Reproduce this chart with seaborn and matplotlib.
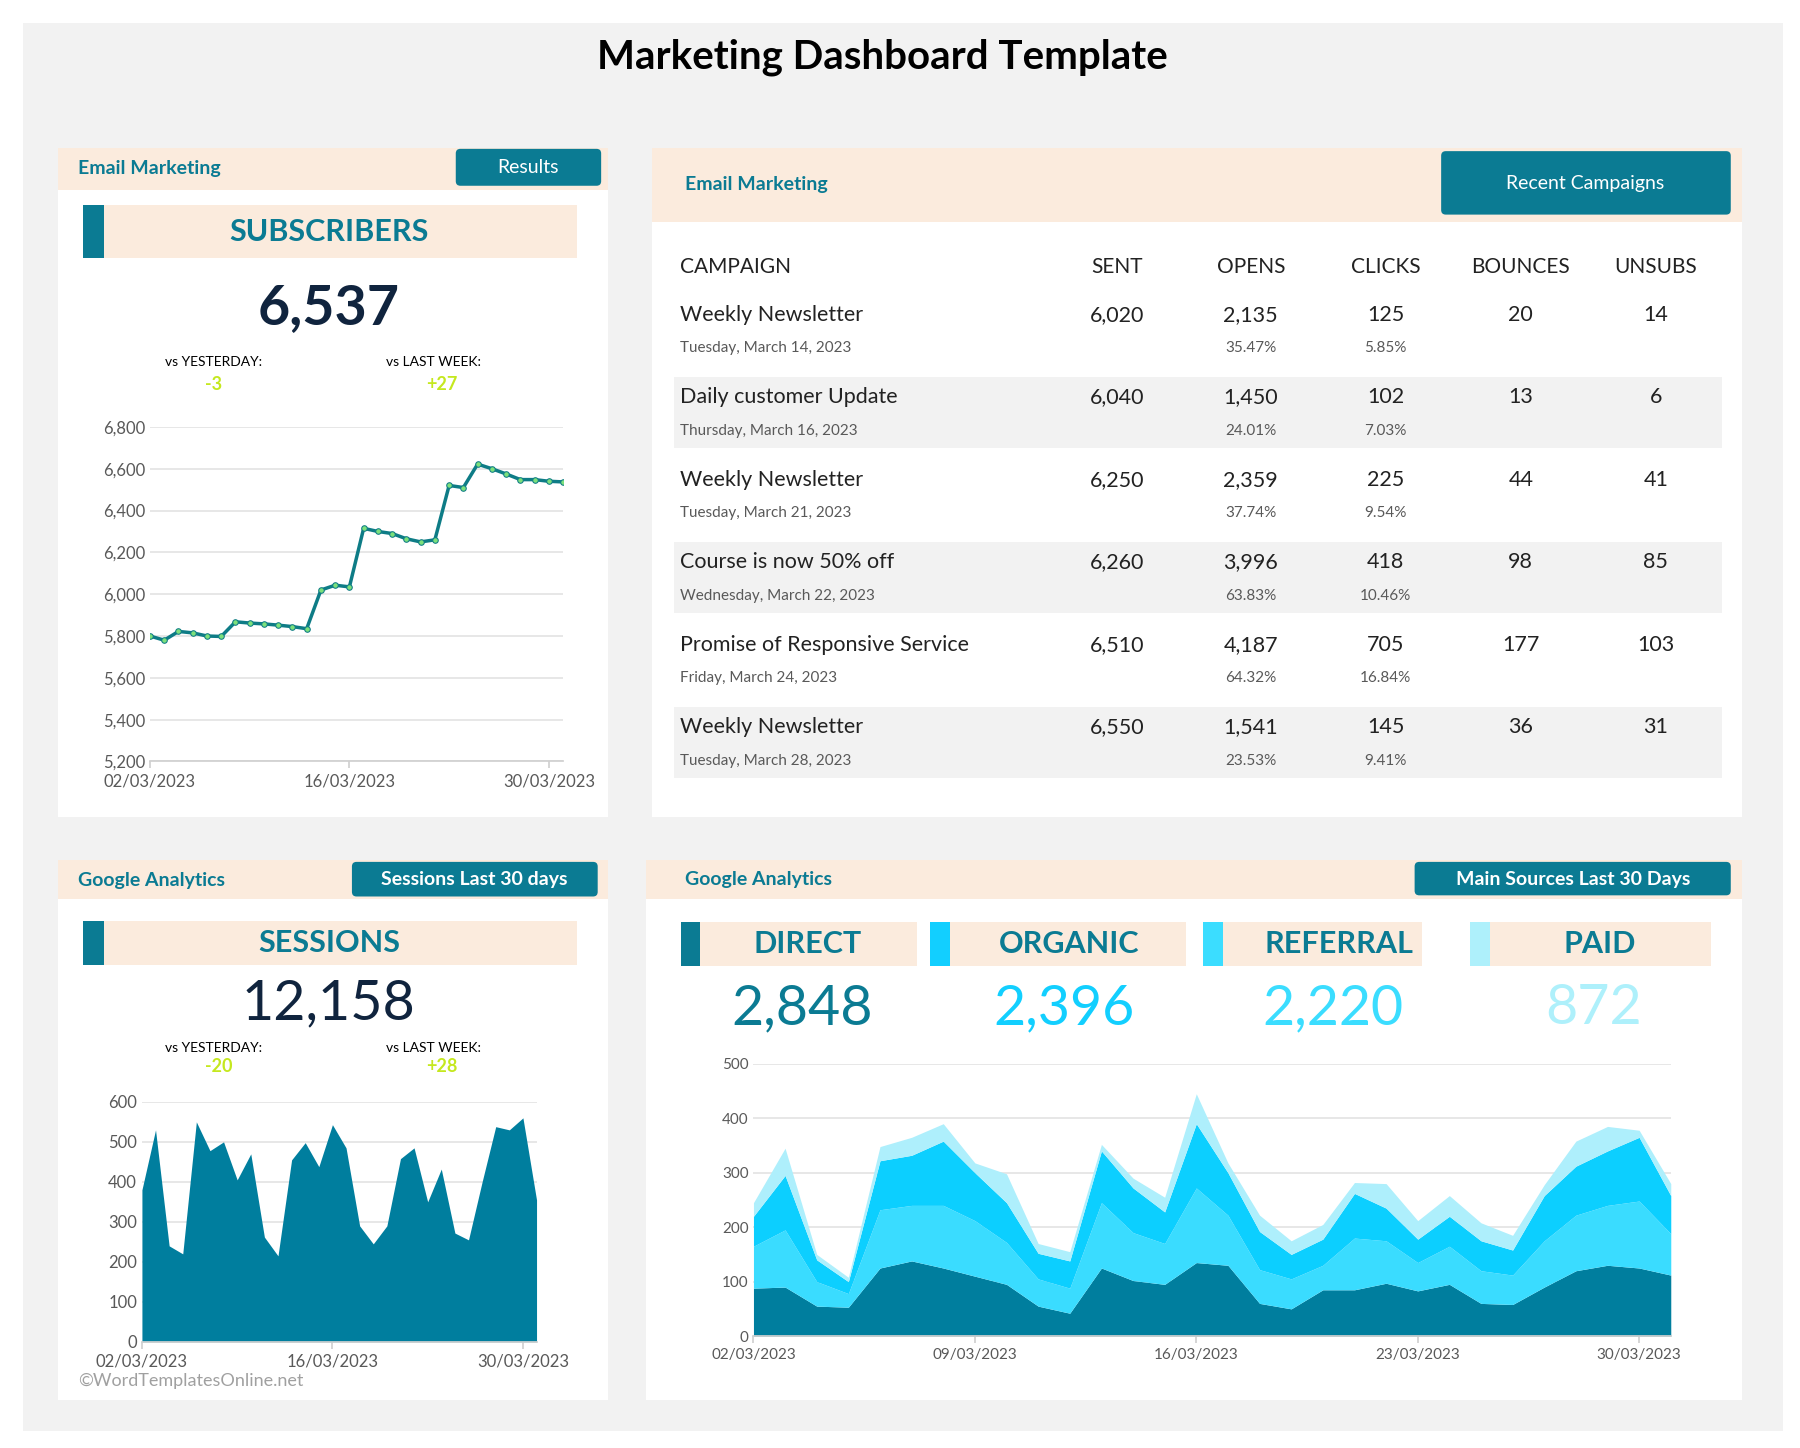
import numpy as np
import pandas as pd
import seaborn as sns
import matplotlib.pyplot as plt
import matplotlib.dates as mdates
from matplotlib.patches import Rectangle, FancyBboxPatch
from matplotlib.ticker import FuncFormatter

dates = pd.date_range('2023-03-02', '2023-03-31', freq='D')

subscribers = [5800, 5780, 5822, 5815, 5800, 5798, 5868, 5862, 5858, 5852,
               5845, 5835, 6020, 6043, 6035, 6315, 6300, 6290, 6265, 6250,
               6260, 6520, 6510, 6622, 6600, 6575, 6548, 6548, 6540, 6537]

sessions = [380, 530, 240, 220, 550, 478, 500, 405, 470, 262,
            215, 455, 498, 438, 543, 485, 290, 245, 290, 458,
            485, 350, 432, 272, 255, 400, 538, 530, 560, 355]

src_direct = [88, 90, 55, 53, 125, 138, 125, 110, 95, 55, 42, 125, 102, 95, 135,
              130, 60, 50, 85, 85, 97, 83, 95, 60, 58, 90, 120, 130, 125, 112]
src_referral = [77, 105, 45, 25, 107, 102, 115, 102, 77, 50, 46, 120, 88, 75, 137,
                92, 62, 55, 45, 95, 78, 52, 70, 60, 54, 85, 102, 110, 123, 76]
src_organic = [55, 100, 40, 22, 90, 92, 118, 88, 73, 47, 50, 95, 82, 58, 118,
               78, 70, 45, 48, 82, 60, 43, 55, 55, 46, 83, 90, 100, 117, 70]
src_paid = [25, 50, 10, 8, 26, 33, 32, 18, 53, 18, 17, 12, 18, 27, 55,
            18, 30, 25, 27, 20, 45, 34, 38, 33, 27, 20, 46, 45, 13, 22]

campaigns = ['Weekly Newsletter', 'Daily customer Update', 'Weekly Newsletter',
             'Course is now 50% off', 'Promise of Responsive Service', 'Weekly Newsletter']
campaign_dates = ['Tuesday, March 14, 2023', 'Thursday, March 16, 2023', 'Tuesday, March 21, 2023',
                  'Wednesday, March 22, 2023', 'Friday, March 24, 2023', 'Tuesday, March 28, 2023']
sent = ['6,020', '6,040', '6,250', '6,260', '6,510', '6,550']
opens = ['2,135', '1,450', '2,359', '3,996', '4,187', '1,541']
opens_pct = ['35.47%', '24.01%', '37.74%', '63.83%', '64.32%', '23.53%']
clicks = ['125', '102', '225', '418', '705', '145']
clicks_pct = ['5.85%', '7.03%', '9.54%', '10.46%', '16.84%', '9.41%']
bounces = ['20', '13', '44', '98', '177', '36']
unsubs = ['14', '6', '41', '85', '103', '31']

source_names = ['DIRECT', 'ORGANIC', 'REFERRAL', 'PAID']
source_totals = ['2,848', '2,396', '2,220', '872']

TEAL = '#0B7B93'
PEACH = '#FBEBDD'
NAVY = '#10243E'
LIME = '#C5E81F'
GREY = '#595959'
SRC_COLORS = ['#0B7B93', '#12CFFF', '#3BDDFF', '#AEF0FB']

sns.set_theme(style='white')
plt.rcParams['font.family'] = ['Lato', 'DejaVu Sans']

W, H = 1560, 1255
fig = plt.figure(figsize=(18, 14.48), dpi=100)
bg = fig.add_axes([0, 0, 1, 1])
bg.set_xlim(0, W)
bg.set_ylim(H, 0)
bg.axis('off')


def rect(x0, y0, x1, y1, color, rounded=False):
    if rounded:
        p = FancyBboxPatch((x0, y0), x1 - x0, y1 - y0, boxstyle='round,pad=0,rounding_size=4',
                           fc=color, ec='none')
    else:
        p = Rectangle((x0, y0), x1 - x0, y1 - y0, fc=color, ec='none')
    bg.add_patch(p)


def txt(x, y, s, size, color='black', ha='center', weight='normal'):
    bg.text(x, y, s, fontsize=size, color=color, ha=ha, va='center', fontweight=weight)


def chart_axes(x0, y0, x1, y1):
    return fig.add_axes([x0 / W, 1 - y1 / H, (x1 - x0) / W, (y1 - y0) / H])


rect(20, 20, 1545, 1240, '#F2F2F2')
txt(765, 50, 'Marketing Dashboard Template', 29, 'black', weight='bold')

# panels
for x0, y0, x1, y1 in [(50, 128, 527, 708), (565, 128, 1510, 708),
                       (50, 745, 527, 1213), (560, 745, 1510, 1213)]:
    rect(x0, y0, x1, y1, 'white')

# panel 1 - subscribers
rect(50, 128, 527, 165, PEACH)
txt(68, 146, 'Email Marketing', 14, TEAL, ha='left', weight='bold')
rect(395, 129, 521, 161, TEAL, rounded=True)
txt(458, 145, 'Results', 14, 'white')
rect(72, 178, 90, 224, TEAL)
rect(90, 178, 500, 224, PEACH)
txt(285, 201, 'SUBSCRIBERS', 22, TEAL, weight='bold')
txt(285, 267, '6,537', 40, NAVY, weight='bold')
txt(185, 314, 'vs YESTERDAY:', 10, 'black')
txt(185, 333, '-3', 13, LIME, weight='bold')
txt(376, 314, 'vs LAST WEEK:', 10, 'black')
txt(383, 333, '+27', 13, LIME, weight='bold')

# panel 2 - campaigns table
rect(565, 128, 1510, 192, PEACH)
txt(594, 160, 'Email Marketing', 14, TEAL, ha='left', weight='bold')
rect(1249, 131, 1500, 186, TEAL, rounded=True)
txt(1374, 159, 'Recent Campaigns', 14, 'white')
col_x = [968, 1084, 1201, 1318, 1435]
txt(589, 231, 'CAMPAIGN', 15, '#222222', ha='left')
for cx, h in zip(col_x, ['SENT', 'OPENS', 'CLICKS', 'BOUNCES', 'UNSUBS']):
    txt(cx, 231, h, 15, '#222222')
for i in range(len(campaigns)):
    top = 255 + i * 71.5
    if i % 2 == 1:
        rect(584, top, 1492, top + 61.5, '#F2F2F2')
    y1, y2 = top + 18, top + 47
    txt(589, y1, campaigns[i], 15.5, '#222222', ha='left')
    txt(589, y2, campaign_dates[i], 11, GREY, ha='left')
    for cx, v in zip(col_x, [sent[i], opens[i], clicks[i], bounces[i], unsubs[i]]):
        txt(cx, y1, v, 15.5, '#222222')
    txt(col_x[1], y2, opens_pct[i], 11, GREY)
    txt(col_x[2], y2, clicks_pct[i], 11, GREY)

# panel 3 - sessions
rect(50, 745, 527, 779, PEACH)
txt(68, 763, 'Google Analytics', 14, TEAL, ha='left', weight='bold')
rect(305, 747, 518, 777, TEAL, rounded=True)
txt(411, 762, 'Sessions Last 30 days', 14, 'white', weight='bold')
rect(72, 798, 90, 836, TEAL)
rect(90, 798, 500, 836, PEACH)
txt(285, 817, 'SESSIONS', 22, TEAL, weight='bold')
txt(285, 870, '12,158', 40, NAVY)
txt(185, 908, 'vs YESTERDAY:', 10, 'black')
txt(190, 924, '-20', 13, LIME, weight='bold')
txt(376, 908, 'vs LAST WEEK:', 10, 'black')
txt(383, 924, '+28', 13, LIME, weight='bold')
txt(68, 1197, '©WordTemplatesOnline.net', 13, '#A0A0A0', ha='left')

# panel 4 - sources
rect(560, 745, 1510, 779, PEACH)
txt(594, 762, 'Google Analytics', 14, TEAL, ha='left', weight='bold')
rect(1226, 747, 1500, 776, TEAL, rounded=True)
txt(1363, 762, 'Main Sources Last 30 Days', 14, 'white', weight='bold')
kpi_boxes = [(590, 795, 700), (806, 1028, 927), (1043, 1232, 1160), (1274, 1483, 1386)]
for (bx0, bx1, tx), name, total, col in zip(kpi_boxes, source_names, source_totals, SRC_COLORS):
    rect(bx0, 799, bx0 + 17, 837, col)
    rect(bx0 + 17, 799, bx1, 837, PEACH)
    txt(tx, 818, name, 22, TEAL, weight='bold')
    txt(tx - 5, 874, total, 40, col)

date_fmt = mdates.DateFormatter('%d/%m/%Y')
thousands = FuncFormatter(lambda v, p: f'{v:,.0f}')


def style_chart(ax, ticks):
    ax.set_facecolor('none')
    ax.set_xlim(dates[0], dates[-1])
    ax.set_xticks(ticks)
    ax.xaxis.set_major_formatter(date_fmt)
    ax.grid(axis='y', color='#E3E3E3', lw=1.2)
    ax.grid(axis='x', visible=False)
    for s in ['top', 'right', 'left']:
        ax.spines[s].set_visible(False)
    ax.spines['bottom'].set_color('#D0D0D0')
    ax.tick_params(axis='x', colors=GREY, labelsize=12, length=5, color='#D0D0D0', bottom=True)
    ax.tick_params(axis='y', colors=GREY, labelsize=12, length=0)
    ax.set_xlabel('')
    ax.set_ylabel('')


# subscribers line
ax1 = chart_axes(130, 370, 488, 660)
sub_df = pd.DataFrame({'date': dates, 'subscribers': subscribers})
sns.lineplot(data=sub_df, x='date', y='subscribers', ax=ax1, color='#0E7C86', lw=2.5,
             marker='o', markersize=4, markerfacecolor='#7CE07C', markeredgecolor='#0E7C86')
ax1.set_ylim(5200, 6800)
ax1.set_yticks(range(5200, 6801, 200))
ax1.yaxis.set_major_formatter(thousands)
style_chart(ax1, pd.to_datetime(['2023-03-02', '2023-03-16', '2023-03-30']))

# sessions area
ax2 = chart_axes(123, 955, 465, 1163)
ax2.fill_between(dates, sessions, color='#007E9E', lw=0)
ax2.set_ylim(0, 600)
ax2.set_yticks(range(0, 601, 100))
style_chart(ax2, pd.to_datetime(['2023-03-02', '2023-03-16', '2023-03-30']))

# sources stacked area
ax3 = chart_axes(653, 922, 1448, 1158)
ax3.stackplot(dates, src_direct, src_referral, src_organic, src_paid,
              colors=['#007E9E', '#3ADCFF', '#0CCFFF', '#AEEFFC'], lw=0)
ax3.set_ylim(0, 500)
ax3.set_yticks(range(0, 501, 100))
style_chart(ax3, pd.to_datetime(['2023-03-02', '2023-03-09', '2023-03-16', '2023-03-23', '2023-03-30']))
ax3.tick_params(labelsize=11)

fig.savefig('out.png', dpi=100)
